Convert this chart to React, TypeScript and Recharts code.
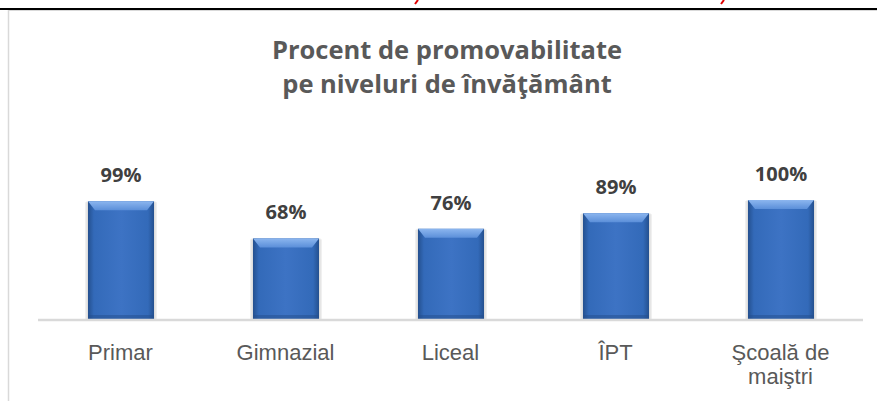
import { BarChart, Bar, XAxis, YAxis, LabelList } from "recharts"

const categories = ["Primar", "Gimnazial", "Liceal", "ÎPT", "Şcoală de\nmaiştri"]
const promovabilitate = [0.99, 0.68, 0.76, 0.89, 1.0]
const titleLines = ["Procent de promovabilitate", "pe niveluri de învăţământ"]

const data = categories.map((c, i) => ({ name: c, value: promovabilitate[i] }))

function BevelBar(props: any) {
  let x = Number(props.x)
  let width = Number(props.width)
  const y = Number(props.y)
  const height = Number(props.height)
  if (!(height > 0)) return null
  if (width < 0) {
    x = x + width
    width = -width
  }
  const b = 7
  return (
    <g>
      <rect x={x - 3} y={y + 1} width={width + 6} height={height} fill="#000" opacity={0.06} />
      <rect x={x - 1.5} y={y} width={width + 3} height={height} fill="#000" opacity={0.08} />
      <rect x={x} y={y} width={width} height={height} fill="url(#barBody)" />
      <polygon
        points={`${x},${y} ${x + width},${y} ${x + width - b},${y + b + 2} ${x + b},${y + b + 2}`}
        fill="url(#barTop)"
      />
      <rect x={x} y={y + height - 5} width={width} height={5} fill="#234d8c" opacity={0.5} />
    </g>
  )
}

function CategoryTick(props: any) {
  const { x, y, payload } = props
  const lines = String(payload.value).split("\n")
  return (
    <text
      x={x}
      y={y + 32}
      textAnchor="middle"
      fill="#595959"
      fontSize={22}
      fontFamily="'Liberation Sans', Arial, sans-serif"
    >
      {lines.map((l, i) => (
        <tspan key={i} x={x} dy={i === 0 ? 0 : 24}>
          {l}
        </tspan>
      ))}
    </text>
  )
}

export default function App() {
  return (
    <div style={{ position: "absolute", left: 0, top: 0, width: 877, height: 401, background: "#fff", overflow: "hidden" }}>
      <svg width={877} height={401} style={{ position: "absolute", left: 0, top: 0 }}>
        <line x1={0} y1={9} x2={877} y2={9} stroke="#000" strokeWidth={2} />
        <line x1={8.5} y1={10} x2={8.5} y2={401} stroke="#d9d9d9" strokeWidth={1.5} />
        <line x1={8} y1={10.5} x2={877} y2={10.5} stroke="#d9d9d9" strokeWidth={1} />
        <line x1={415} y1={4} x2={418} y2={0} stroke="#e00000" strokeWidth={2} />
        <line x1={721} y1={4} x2={724} y2={0} stroke="#e00000" strokeWidth={2} />
        {titleLines.map((t, i) => (
          <text
            key={i}
            x={447}
            y={59 + i * 34}
            textAnchor="middle"
            fill="#595959"
            fontSize={25.5}
            fontWeight="bold"
            fontFamily="'Open Sans', sans-serif"
          >
            {t}
          </text>
        ))}
      </svg>
      <div style={{ position: "absolute", left: 0, top: 0 }}>
        <BarChart
          width={877}
          height={401}
          data={data}
          margin={{ top: 200, right: 14, left: 38, bottom: 21 }}
          barSize={66}
        >
          <defs>
            <linearGradient id="barBody" x1="0" y1="0" x2="1" y2="0">
              <stop offset="0%" stopColor="#24508f" />
              <stop offset="9%" stopColor="#336ab9" />
              <stop offset="50%" stopColor="#3d73c4" />
              <stop offset="91%" stopColor="#336ab9" />
              <stop offset="100%" stopColor="#24508f" />
            </linearGradient>
            <linearGradient id="barTop" x1="0" y1="0" x2="0" y2="1">
              <stop offset="0%" stopColor="#8cb6ef" />
              <stop offset="100%" stopColor="#5b8fd9" />
            </linearGradient>
          </defs>
          <XAxis
            dataKey="name"
            height={60}
            tickLine={false}
            axisLine={{ stroke: "#d9d9d9", strokeWidth: 2.5 }}
            tick={<CategoryTick />}
            interval={0}
          />
          <YAxis hide domain={[0, 1]} />
          <Bar dataKey="value" shape={<BevelBar />} isAnimationActive={false}>
            <LabelList
              dataKey="value"
              position="top"
              offset={19}
              formatter={(v: any) => `${Math.round(Number(v) * 100)}%`}
              fill="#404040"
              fontSize={20}
              fontWeight="bold"
              fontFamily="'Open Sans', sans-serif"
            />
          </Bar>
        </BarChart>
      </div>
    </div>
  )
}
